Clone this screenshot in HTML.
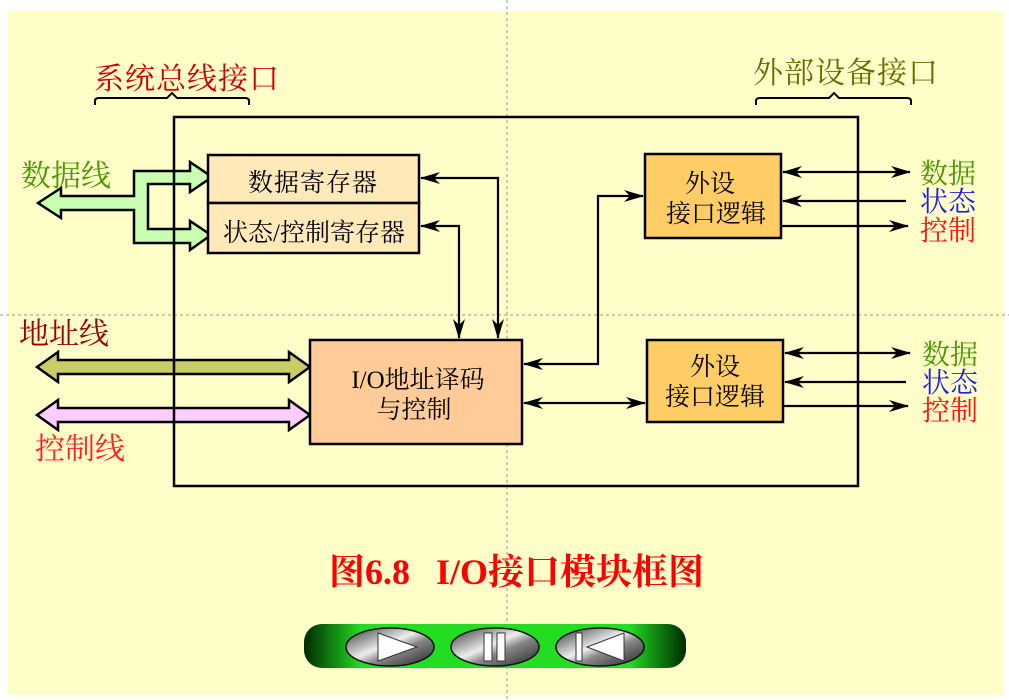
<!DOCTYPE html>
<html><head><meta charset="utf-8"><style>
html,body{margin:0;padding:0;background:#fff;width:1009px;height:700px;overflow:hidden}
svg{display:block}
text{font-family:"Liberation Serif","Noto Serif CJK SC","Noto Sans CJK SC",serif}
</style></head><body>
<svg width="1009" height="700" viewBox="0 0 1009 700" xmlns="http://www.w3.org/2000/svg">
<defs>
<marker id="ah" viewBox="0 0 20 12" refX="19" refY="6" markerWidth="20" markerHeight="12" markerUnits="userSpaceOnUse" orient="auto-start-reverse">
<path d="M0,0 L20,6 L0,12 L6,6 Z" fill="#000"/>
</marker>
<linearGradient id="gb" x1="0" x2="1" y1="0" y2="0">
<stop offset="0" stop-color="#002a00"/><stop offset="0.15" stop-color="#22dd22"/><stop offset="0.85" stop-color="#22dd22"/><stop offset="1" stop-color="#002a00"/>
</linearGradient>
<linearGradient id="bt" x1="0" y1="0" x2="1" y2="1">
<stop offset="0" stop-color="#333"/><stop offset="0.45" stop-color="#eee"/><stop offset="0.6" stop-color="#888"/><stop offset="1" stop-color="#222"/>
</linearGradient>
</defs>
<rect x="8" y="11" width="996" height="684" fill="#FFFDC8"/>
<line x1="507" y1="0" x2="507" y2="700" stroke="#999" stroke-dasharray="3,3"/>
<line x1="0" y1="315" x2="1009" y2="315" stroke="#999" stroke-dasharray="3,3"/>

<text x="94" y="89" font-size="30" letter-spacing="1" fill="#d00000">系统总线接口</text>
<path d="M95,105 v-4 q0,-3 4,-3 h68 l5,-5 l5,5 h68 q4,0 4,3 v4" fill="none" stroke="#000" stroke-width="2"/>
<text x="753" y="83" font-size="30" letter-spacing="1" fill="#6b6b00">外部设备接口</text>
<path d="M756,105 v-4 q0,-3 4,-3 h69 l5,-5 l5,5 h68 q4,0 4,3 v4" fill="none" stroke="#000" stroke-width="2"/>

<path d="M38,203 L61,188 L61,196 L134,196 L134,171 L190,171 L190,162 L212,177 L190,192 L190,184 L148,184 L148,229 L190,229 L190,221 L211,235 L190,250 L190,243 L134,243 L134,210 L61,210 L61,218 Z" fill="#C8FFB0" stroke="#000" stroke-width="2.5"/>
<path d="M37,367 L58,352 L58,360 L289,360 L289,352 L310,367 L289,382 L289,374 L58,374 L58,382 Z" fill="#CCCC66" stroke="#000" stroke-width="2.5"/>
<path d="M37,415 L58,400 L58,408 L289,408 L289,400 L310,415 L289,430 L289,422 L58,422 L58,430 Z" fill="#FFCCFF" stroke="#000" stroke-width="2.5"/>

<text x="21" y="186" font-size="30" fill="#4a9a00">数据线</text>
<text x="19" y="344" font-size="30" fill="#a00000">地址线</text>
<text x="35" y="459" font-size="30" fill="#ff2020">控制线</text>

<rect x="174" y="117" width="684" height="369" fill="none" stroke="#000" stroke-width="2.5"/>

<rect x="208" y="155" width="211" height="48" fill="#FFE9B8" stroke="#000" stroke-width="2.5"/>
<rect x="208" y="203" width="211" height="50" fill="#FFE9B8" stroke="#000" stroke-width="2.5"/>
<text x="313" y="191" font-size="25" letter-spacing="1" text-anchor="middle">数据寄存器</text>
<text x="314" y="241" font-size="25" text-anchor="middle">状态/控制寄存器</text>

<rect x="310" y="340" width="212" height="104" fill="#FFCC99" stroke="#000" stroke-width="2.5"/>
<text x="418" y="388" font-size="25" text-anchor="middle">I/O地址译码</text>
<text x="414" y="418" font-size="25" text-anchor="middle">与控制</text>

<rect x="645" y="154" width="136" height="84" fill="#FFCC66" stroke="#000" stroke-width="2.5"/>
<text x="710" y="192" font-size="25" text-anchor="middle">外设</text>
<text x="716" y="222" font-size="25" text-anchor="middle">接口逻辑</text>
<rect x="647" y="340" width="136" height="82" fill="#FFCC66" stroke="#000" stroke-width="2.5"/>
<text x="715" y="375" font-size="25" text-anchor="middle">外设</text>
<text x="715" y="405" font-size="25" text-anchor="middle">接口逻辑</text>

<g fill="none" stroke="#000" stroke-width="2.2">
<path d="M421,178 H498 V338" marker-start="url(#ah)" marker-end="url(#ah)"/>
<path d="M421,226 H459 V338" marker-start="url(#ah)" marker-end="url(#ah)"/>
<path d="M524,364 H598 V196 H643" marker-start="url(#ah)" marker-end="url(#ah)"/>
<path d="M524,403 H645" marker-start="url(#ah)" marker-end="url(#ah)"/>
<path d="M783,172 H910" marker-start="url(#ah)" marker-end="url(#ah)"/>
<path d="M906,201 H783" marker-end="url(#ah)"/>
<path d="M781,226 H908" marker-end="url(#ah)"/>
<path d="M785,353 H910" marker-start="url(#ah)" marker-end="url(#ah)"/>
<path d="M906,382 H785" marker-end="url(#ah)"/>
<path d="M783,406 H908" marker-end="url(#ah)"/>
</g>

<g font-size="28">
<text x="920" y="183" fill="#4a9a00">数据</text>
<text x="920" y="211" fill="#2020dd">状态</text>
<text x="920" y="240" fill="#ff1010">控制</text>
<text x="922" y="364" fill="#4a9a00">数据</text>
<text x="922" y="392" fill="#2020dd">状态</text>
<text x="922" y="420" fill="#ff1010">控制</text>
</g>

<text x="329" y="584" font-size="36" font-weight="bold" fill="#ff0000">图6.8</text>
<text x="436" y="584" font-size="36" font-weight="bold" fill="#ff0000">I/O接口模块框图</text>

<rect x="304" y="624" width="382" height="44" rx="18" fill="url(#gb)"/>
<g stroke="#111" stroke-width="1.5">
<ellipse cx="390" cy="647" rx="44" ry="19" fill="url(#bt)"/>
<ellipse cx="495" cy="647" rx="44" ry="19" fill="url(#bt)"/>
<ellipse cx="600" cy="647" rx="44" ry="19" fill="url(#bt)"/>
</g>
<path d="M378,633 L417,647 L378,661 Z" fill="#fff" stroke="#333"/>
<rect x="484" y="633" width="8" height="28" fill="#fff" stroke="#333"/>
<rect x="497" y="633" width="8" height="28" fill="#fff" stroke="#333"/>
<rect x="576" y="633" width="6" height="28" fill="#fff" stroke="#333"/>
<path d="M587,647 L624,633 L624,661 Z" fill="#fff" stroke="#333"/>
</svg>
</body></html>
